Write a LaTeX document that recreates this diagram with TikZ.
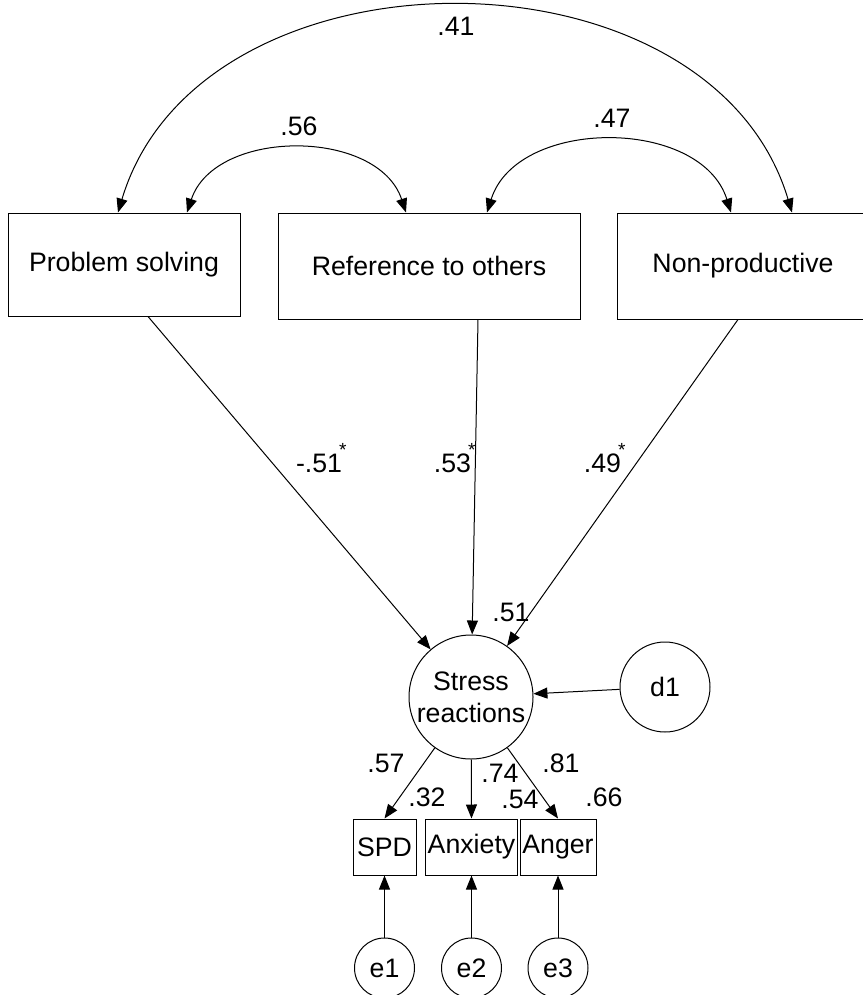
\documentclass[tikz,border=0pt]{standalone}
\usepackage{fontspec}
\setmainfont{Liberation Sans}
\usetikzlibrary{arrows.meta,positioning,calc}
\newcommand{\sigstar}{\rlap{\kern-1.5pt\raisebox{8pt}[0pt][0pt]{\fontsize{9.5}{9.5}\selectfont *}}}

\begin{document}
\begin{tikzpicture}[
  x=0.5pt, y=-0.5pt,
  font=\fontsize{13.35}{16}\selectfont,
  line width=0.5pt,
  obs/.style={draw, rectangle, inner sep=1pt, align=center},
  lat/.style={draw, circle, inner sep=0pt, align=center},
  reg/.style={-{Triangle[length=7pt,width=5.5pt]}},
  cov/.style={{Triangle[length=7pt,width=5.5pt]}-{Triangle[length=7pt,width=5.5pt]}},
  coef/.style={inner sep=0pt}
]
\useasboundingbox (0,0) rectangle (862,995);

% --- coping scales ---
\node[obs, minimum width=116pt, minimum height=51.5pt] (ps)  at (124,264.5) {Problem solving};
\node[obs, minimum width=151pt, minimum height=53pt]   (rto) at (429,266)   {Reference to others};
\node[obs, minimum width=126pt, minimum height=53pt]   (np)  at (743,266)   {Non-productive};

% --- latent outcome + disturbance ---
\node[lat, minimum size=62pt] (sr) at (471,697) {Stress\\reactions};
\node[lat, minimum size=45pt] (d1) at (665,687) {d1};

% --- indicators + errors ---
\node[obs, minimum width=31.5pt, minimum height=28pt] (spd) at (384.5,847) {SPD};
\node[obs, minimum width=44.5pt, minimum height=28pt] (anx) at (471.5,847) {Anxiety};
\node[obs, minimum width=38pt,   minimum height=28pt] (ang) at (558,847)   {Anger};

\node[lat, minimum size=30pt] (e1) at (384.5,968) {e1};
\node[lat, minimum size=30pt] (e2) at (471.5,968) {e2};
\node[lat, minimum size=30pt] (e3) at (558,968)   {e3};

% covariances
\draw[cov] ([xshift=-3pt]ps.north) .. controls (200,-62) and (710,-62) .. ([xshift=24.5pt]np.north);
\draw[cov] ([xshift=31.5pt]ps.north) .. controls (215,128) and (378,128) .. ([xshift=-11.5pt]rto.north);
\draw[cov] ([xshift=29pt]rto.north) .. controls (517,117) and (701,117) .. ([xshift=-6pt]np.north);

% regressions
\draw[reg] ([xshift=12pt]ps.south) -- (sr);
\draw[reg] ([xshift=24.5pt]rto.south) -- (sr);
\draw[reg] ([xshift=-2.5pt]np.south) -- (sr);
\draw[reg] (d1) -- (sr);

% loadings
\foreach \i in {spd,anx,ang} { \draw[reg] (sr) -- (\i.north); }
\draw[reg] (e1) -- (spd);
\draw[reg] (e2) -- (anx);
\draw[reg] (e3) -- (ang);

% coefficients
\node[coef] (k41) at (456,26)  {.41};
\node[coef] (k56) at (299,126) {.56};
\node[coef] (k47) at (612,118) {.47};
\node[coef] (kps) at (319,463) {-.51\sigstar};
\node[coef] (krt) at (452.5,463) {.53\sigstar};
\node[coef] (knp) at (602.5,463) {.49\sigstar};
\node[coef] (ksr) at (511,612) {.51};
\node[coef] (l57) at (386,763) {.57};
\node[coef] (r32) at (427,797) {.32};
\node[coef] (l74) at (500,773) {.74};
\node[coef] (r54) at (520,799) {.54};
\node[coef] (l81) at (561,763) {.81};
\node[coef] (r66) at (604,797) {.66};

\end{tikzpicture}
\end{document}
